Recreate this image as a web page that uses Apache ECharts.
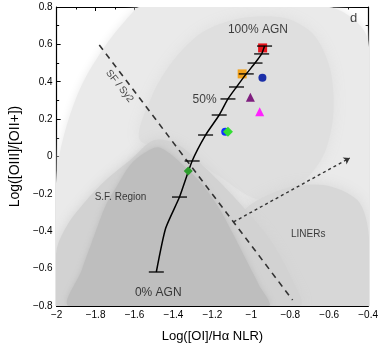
<!DOCTYPE html>
<html><head><meta charset="utf-8">
<script src="https://cdn.jsdelivr.net/npm/echarts@6/dist/echarts.min.js"></script>
<style>html,body{margin:0;padding:0;background:#fff}#c{width:381px;height:351px}</style>
</head><body><div id="c"></div>
<script>
// ---- tick labels ----
const xTickValues = [-2,-1.8,-1.6,-1.4,-1.2,-1,-0.8,-0.6,-0.4];
const xTickLabels = ['\u22122','\u22121.8','\u22121.6','\u22121.4','\u22121.2','\u22121','\u22120.8','\u22120.6','\u22120.4'];
const yTickValues = [-0.8,-0.6,-0.4,-0.2,0,0.2,0.4,0.6,0.8];
const yTickLabels = ['\u22120.8','\u22120.6','\u22120.4','\u22120.2','0','0.2','0.4','0.6','0.8'];

// ---- mixing line (AGN fraction) ----
const mixPct = [0,10,20,30,40,50,60,70,80,90,100];
const mixX = [-1.488,-1.369,-1.304,-1.235,-1.165,-1.120,-1.076,-1.026,-0.981,-0.947,-0.932];
const mixY = [-0.618,-0.217,-0.024,0.115,0.222,0.308,0.372,0.442,0.500,0.549,0.591];
const curveX = [-1.488,-1.440,-1.369,-1.304,-1.235,-1.165,-1.120,-1.076,-1.026,-0.981,-0.947,-0.932];
const curveY = [-0.618,-0.384,-0.217,-0.024,0.115,0.222,0.308,0.372,0.442,0.500,0.549,0.591];

// ---- demarcation lines ----
const sfSy2Line = [[-1.781,0.597],[-0.788,-0.768]];
const linerArrow = [[-1.091,-0.350],[-0.494,-0.008]];

// ---- object markers ----
const objNames = ['red','orange','blue1','purple','magenta','blue2','green1','green2'];
const objX = [-0.942,-1.047,-0.943,-1.005,-0.957,-1.134,-1.120,-1.324];
const objY = [0.581,0.442,0.422,0.317,0.240,0.133,0.133,-0.077];

// ---- background density regions (data coords) ----
const regionBase = [[-2,-0.8],[-2,-0.10],[-1.955,0.142],[-1.871,0.383],[-1.747,0.597],[-1.622,0.757],[-1.573,0.8],[-0.6,0.8],[-0.4,0.62],[-0.4,-0.8]];
const regionAGN = [[-1.573,0.088],[-1.508,0.329],[-1.399,0.516],[-1.250,0.666],[-1.051,0.741],[-0.827,0.741],[-0.678,0.650],[-0.594,0.463],[-0.579,0.222],[-0.629,0.008],[-0.753,-0.152],[-0.952,-0.233],[-1.175,-0.099],[-1.374,0.035]];
const regionLINER = [[-1.051,-0.313],[-0.852,-0.179],[-0.629,-0.152],[-0.455,-0.233],[-0.4,-0.393],[-0.4,-0.8],[-0.852,-0.8],[-0.976,-0.554]];
const regionSFouter = [[-2,-0.8],[-2,-0.500],[-1.945,-0.366],[-1.846,-0.233],[-1.747,-0.126],[-1.622,-0.019],[-1.498,0.088],[-1.374,0.062],[-1.225,-0.072],[-1.051,-0.259],[-0.902,-0.447],[-0.802,-0.634],[-0.753,-0.8]];
const regionSFcore = [[-1.935,-0.8],[-1.871,-0.607],[-1.806,-0.420],[-1.747,-0.259],[-1.687,-0.152],[-1.622,-0.045],[-1.548,0.020],[-1.480,0.050],[-1.410,0.010],[-1.324,-0.072],[-1.250,-0.152],[-1.160,-0.286],[-1.091,-0.420],[-1.026,-0.554],[-0.961,-0.687],[-0.912,-0.8]];

// ---- annotations ----
const noteText = ['100% AGN','50%','0% AGN','S.F. Region','LINERs','SF / Sy2','d'];
const noteX = [-0.966,-1.240,-1.478,-1.672,-0.708,-1.677,-0.475];
const noteY = [0.677,0.302,-0.730,-0.217,-0.415,0.377,0.741];

const chart = echarts.init(document.getElementById('c'), null, {renderer:'canvas'});

function fmt(vals, labels){
  return v => { for (let i=0;i<vals.length;i++) if (Math.abs(vals[i]-v)<1e-6) return labels[i]; return ''; };
}
function poly(pts, color, z, blur){
  return {type:'custom', coordinateSystem:'cartesian2d', silent:true, z:z, clip:true,
    data:[[-1.2,0]],
    renderItem:(params, api)=>({type:'polygon',
      shape:{points: pts.map(p=>api.coord(p)), smooth:0.3},
      style:{fill:color, shadowBlur:blur, shadowColor:color}})
  };
}
const font = 'Liberation Sans, Arial, Helvetica, sans-serif';
const axisCommon = {
  type:'value', axisLine:{onZero:false, lineStyle:{color:'#000', width:1.2}},
  axisTick:{inside:true, length:4, lineStyle:{color:'#000'}},
  minorTick:{show:true, splitNumber:2, length:2.5, lineStyle:{color:'#000'}},
  splitLine:{show:false}, minorSplitLine:{show:false}
};

const markerStyles = [
  {symbol:'rect', size:9, color:'#e8141c'},
  {symbol:'rect', size:9, color:'#f2a21c'},
  {symbol:'circle', size:8, color:'#1b2fa8'},
  {symbol:'triangle', size:9, color:'#7f1f7f'},
  {symbol:'triangle', size:9, color:'#ff22ff'},
  {symbol:'circle', size:8, color:'#1030ff'},
  {symbol:'diamond', size:10, color:'#33dd33'},
  {symbol:'diamond', size:9, color:'#2e9e2e'}
];

const series = [
  poly(regionBase, '#eaeaea', 1, 10),
  poly(regionAGN, '#dfdfdf', 2, 14),
  poly(regionLINER, '#d7d7d7', 2, 14),
  poly(regionSFouter, '#d2d2d2', 3, 12),
  poly(regionSFcore, '#bebebe', 4, 6),
  {type:'line', data: sfSy2Line, symbol:'none', silent:true, z:5,
    lineStyle:{color:'#333', width:1.6, type:[6,5]}},
  {type:'lines', coordinateSystem:'cartesian2d', silent:true, z:5,
    symbol:['none','arrow'], symbolSize:6,
    lineStyle:{color:'#333', width:1.4, type:[3,3], opacity:1},
    data:[{coords: linerArrow}]}
];
objNames.forEach((n,i)=>{
  const s = markerStyles[i];
  series.push({type:'scatter', name:n, data:[[objX[i], objY[i]]], symbol:s.symbol, symbolSize:s.size,
    itemStyle:{color:s.color, opacity:1}, z: (i===7?9:6), silent:true});
});
series.push({type:'line', data: curveX.map((x,i)=>[x,curveY[i]]), symbol:'none', smooth:0.2, z:7,
  lineStyle:{color:'#000', width:1.5}, silent:true});
series.push({type:'scatter', data: mixX.map((x,i)=>[x,mixY[i],mixPct[i]]), symbol:'rect', symbolSize:[15,1.6], z:8,
  itemStyle:{color:'#000'}, silent:true});
series.push({type:'scatter', z:10, silent:true, symbolSize:0,
  data: noteText.map((t,i)=>({name:t, value:[noteX[i], noteY[i]],
    label:{rotate: t==='SF / Sy2' ? -52 : 0,
      fontSize: (t==='S.F. Region'||t==='LINERs'||t==='SF / Sy2') ? 10 : (t==='d'?13:12)}})),
  label:{show:true, position:'inside', formatter:p=>p.name, color:'#111', fontFamily:font}
});

chart.setOption({
  animation:false,
  backgroundColor:'#fff',
  grid:{left:49, right:10, top:7, bottom:45},
  xAxis:[
    Object.assign({}, axisCommon, {position:'bottom', min:-2, max:-0.4, interval:0.2,
      axisLabel:{fontSize:10, color:'#000', margin:4, fontFamily:font, formatter:fmt(xTickValues,xTickLabels)},
      name:'Log([OI]/H\u03b1 NLR)', nameLocation:'middle', nameGap:24,
      nameTextStyle:{fontSize:13, color:'#000', fontFamily:font}}),
    Object.assign({}, axisCommon, {position:'top', min:-2, max:-0.4, interval:0.2, axisLabel:{show:false}})
  ],
  yAxis:[
    Object.assign({}, axisCommon, {position:'left', min:-0.8, max:0.8, interval:0.2,
      axisLabel:{fontSize:10, color:'#000', margin:4, fontFamily:font, formatter:fmt(yTickValues,yTickLabels)},
      name:'Log([OIII]/[OII+])', nameLocation:'middle', nameGap:30,
      nameTextStyle:{fontSize:14, color:'#000', fontFamily:font}}),
    Object.assign({}, axisCommon, {position:'right', min:-0.8, max:0.8, interval:0.2, axisLabel:{show:false}})
  ],
  series: series
});
</script></body></html>
